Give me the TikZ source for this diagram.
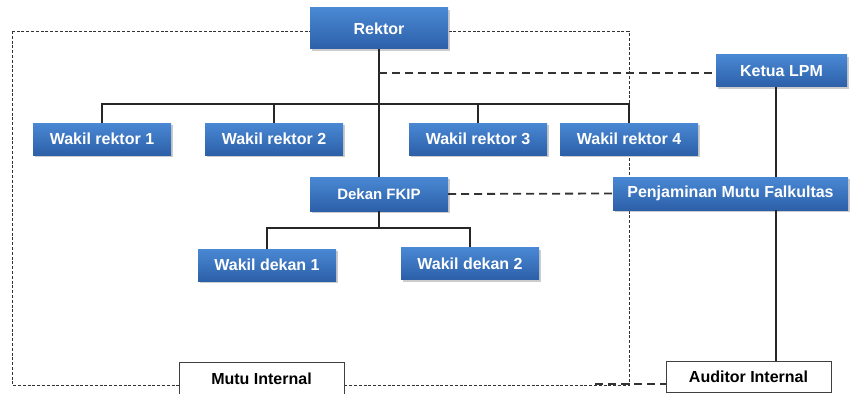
\documentclass[tikz,border=0pt]{standalone}
\usepackage{fontspec}
\setmainfont{Liberation Sans}
\usetikzlibrary{calc,shadows,backgrounds}

\definecolor{biruAtas}{HTML}{4A88D4}
\definecolor{biruBawah}{HTML}{2C60A8}

\tikzset{
	jabatan/.style={rectangle, inner sep=0pt, minimum width=138pt, minimum height=32pt,
		top color=biruAtas, bottom color=biruBawah, text=white,
		font=\bfseries\fontsize{16}{18}\selectfont,
		drop shadow={opacity=0.4, shadow xshift=1.5pt, shadow yshift=-2pt}},
	kotakputih/.style={rectangle, inner sep=0pt, draw=black!75, line width=0.8pt, fill=white,
		font=\bfseries\fontsize{16}{18}\selectfont},
	garis/.style={line width=1.6pt, black!85},
	putus/.style={line width=1.8pt, black!80, dash pattern=on 8pt off 5pt},
	bingkai/.style={line width=0.8pt, black!80, dash pattern=on 3pt off 1.8pt}
}

\begin{document}
\begin{tikzpicture}[x=1pt, y=-1pt]
	\useasboundingbox (0,0) rectangle (850,393);

	% pimpinan universitas
	\node[jabatan, minimum height=41pt] (rektor) at (379,28.5) {Rektor};
	\node[jabatan] (wr1) at (102,139) {Wakil rektor 1};
	\node[jabatan] (wr2) at (274,139) {Wakil rektor 2};
	\node[jabatan] (wr3) at (478,139) {Wakil rektor 3};
	\node[jabatan] (wr4) at (629,139) {Wakil rektor 4};

	% fakultas
	\node[jabatan, minimum height=34pt, font=\bfseries\fontsize{15}{17}\selectfont]
		(dekan) at (379,194) {Dekan FKIP};
	\node[jabatan] (wd1) at (267,265) {Wakil dekan 1};
	\node[jabatan] (wd2) at (470,263.5) {Wakil dekan 2};

	% penjaminan mutu
	\node[jabatan, minimum width=131pt] (lpm) at (781.5,71) {Ketua LPM};
	\node[jabatan, minimum width=235pt, minimum height=33pt] (pmf) at (730.5,193.5)
		{Penjaminan Mutu Falkultas};

	% label bawah
	\node[kotakputih, minimum width=165pt, minimum height=33pt] (mutu) at (261.5,378.5) {Mutu Internal};
	\node[kotakputih, minimum width=165pt, minimum height=31pt] (auditor) at (748.5,376.5) {Auditor Internal};

	% titik bantu
	\coordinate (bus) at (379,104);
	\coordinate (busdk) at (379,228);
	\coordinate (jalur) at (776,0);
	\coordinate (ujung) at (595,384);
	\coordinate (garisLPM) at (379,73);

	% bingkai mutu internal
	\begin{scope}[on background layer]
		\draw[bingkai] (12,31) rectangle (629,385);
	\end{scope}

	% garis komando
	\draw[garis] (rektor.south) -- (dekan.north);
	\draw[garis] (wr1.north) |- (bus) -| (wr4.north);
	\draw[garis] (wr2.north) -- (wr2.north |- bus);
	\draw[garis] (wr3.north) -- (wr3.north |- bus);

	\draw[garis] (dekan.south) -- (busdk);
	\draw[garis] (wd1.north) |- (busdk) -| (wd2.north);

	\draw[garis] (lpm.south -| jalur) -- (pmf.north -| jalur);
	\draw[garis] (pmf.south -| jalur) -- (auditor.north -| jalur);

	% garis koordinasi
	\draw[putus] (garisLPM) -- (garisLPM -| lpm.west);
	\draw[putus] (dekan.east) -- (pmf.west);
	\draw[putus] (ujung) -- (ujung -| auditor.west);

\end{tikzpicture}
\end{document}
